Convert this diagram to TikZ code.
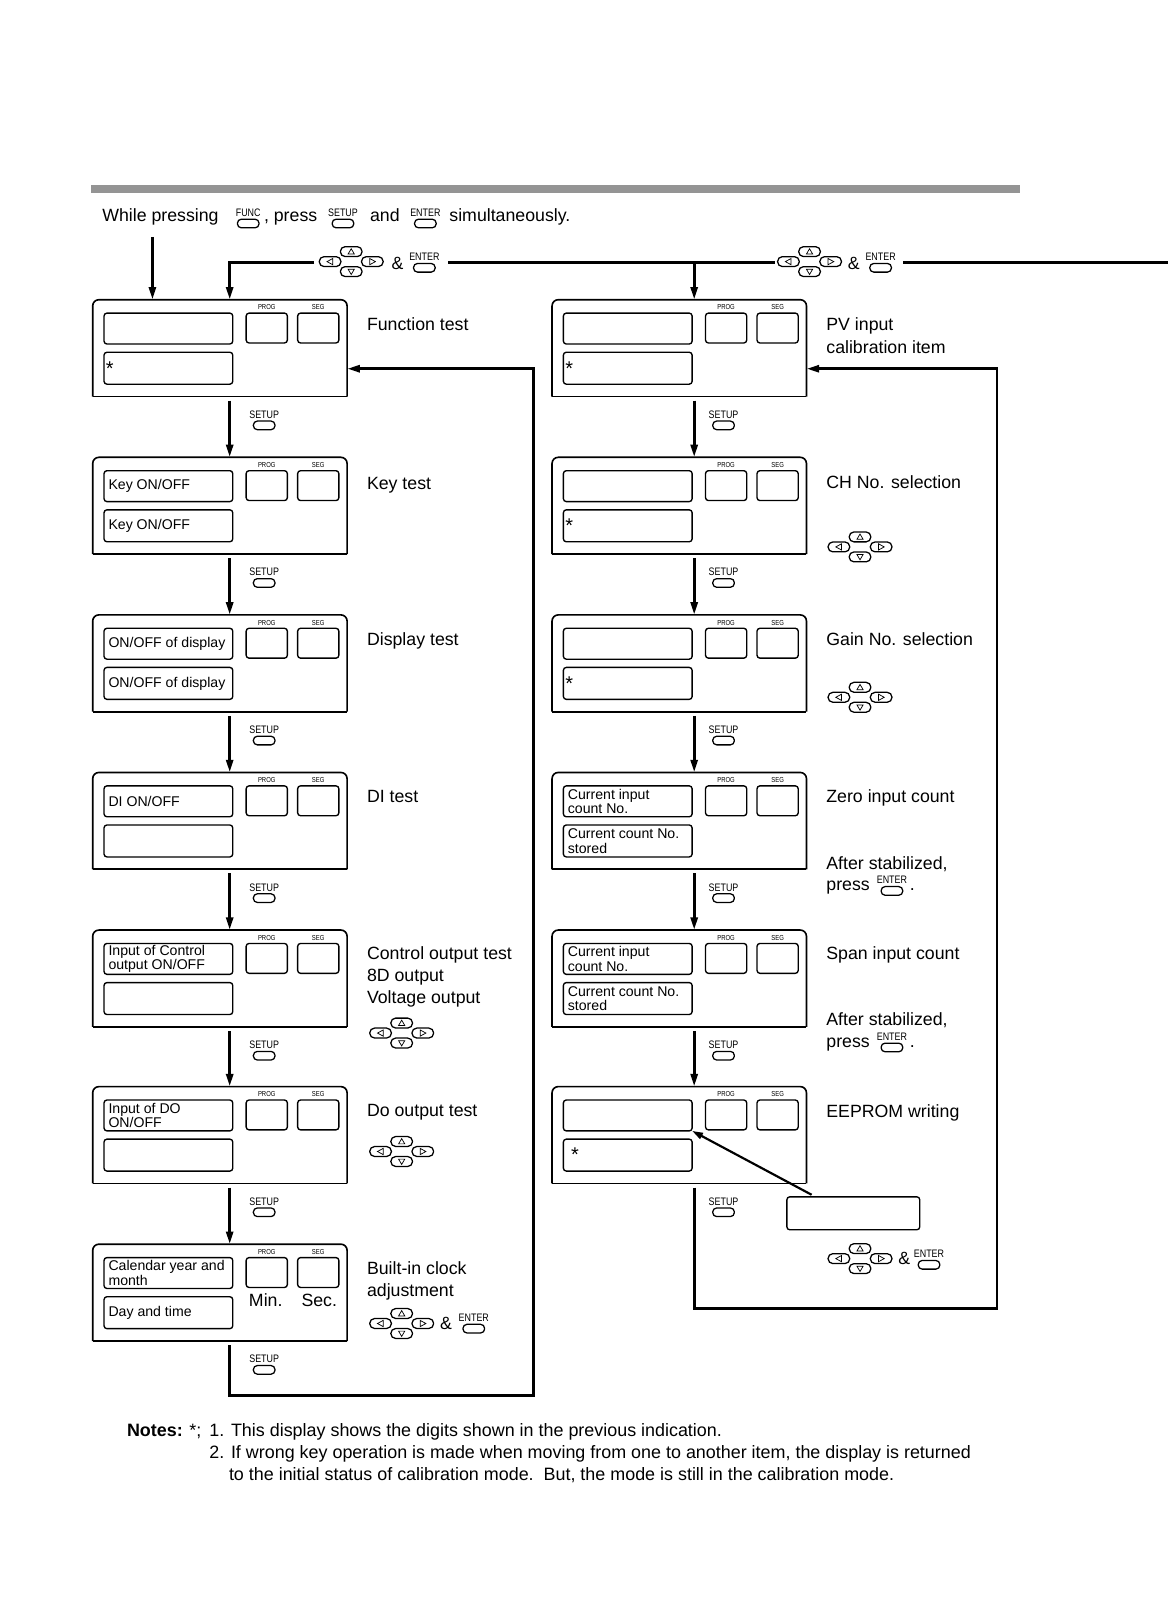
\documentclass[tikz,border=0pt]{standalone}
\usepackage{fontspec}
\setmainfont{Liberation Sans}
\newfontfamily\narrowfont[FakeStretch=0.82]{Liberation Sans}
\usetikzlibrary{arrows.meta}

\newcommand\markstar[1][-1.4pt]{\fontsize{11}{11}\selectfont\hspace*{#1}*}

\tikzset{
  panelframe/.style={line width=0.9pt},
  display/.style={draw,line width=0.75pt,rounded corners=1.6pt},
  disptext/.style={font=\fontsize{7.8}{8.1}\selectfont,align=left,inner sep=0pt,anchor=west},
  item/.style={font=\fontsize{9.8}{12}\selectfont,inner sep=0pt,anchor=base west},
  notetext/.style={item,font=\fontsize{9.9}{12}\selectfont},
  flowline/.style={line width=1.6pt},
  flow/.style={flowline,-{Triangle[length=7pt,width=3.8pt]}},
  keyoval/.style={draw,line width=0.7pt,rounded corners=2.2pt},
  keylabel/.style={font=\narrowfont\fontsize{6}{6}\selectfont,inner sep=0pt},
  tinylabel/.style={font=\narrowfont\fontsize{4}{4}\selectfont,inner sep=0pt},
  pics/key/.style={code={
    \node[keylabel] (-name) at (0,-10.5) {#1};
    \draw[keyoval] (-10.5,-4.2) rectangle (10.5,4.2);
  }},
  pics/arrowkeys/.style={code={
    \draw[keyoval,rounded corners=2.6pt] (-10.5,-14.5) rectangle (10.5,-4.9);
    \draw[keyoval,rounded corners=2.6pt] (-10.5,4.9) rectangle (10.5,14.5);
    \draw[keyoval,rounded corners=2.6pt] (-31,-4.8) rectangle (-10,4.8);
    \draw[keyoval,rounded corners=2.6pt] (10,-4.8) rectangle (31,4.8);
    % small triangles
    \draw[line width=0.4pt] (-3,-7.4) -- (3,-7.4) -- (0,-12.5) -- cycle;
    \draw[line width=0.4pt] (-3,7.4) -- (3,7.4) -- (0,12.5) -- cycle;
    \draw[line width=0.4pt] (-18,-3) -- (-18,3) -- (-23.5,0) -- cycle;
    \draw[line width=0.4pt] (18,-3) -- (18,3) -- (23.5,0) -- cycle;
  }},
  pics/panel/.style 2 args={code={
    \draw[panelframe,rounded corners=3.4pt] (0,94) -- (0,0) -- (247,0) -- (247,94);
    \draw[panelframe] (0,94) -- (247,94);
    \draw[display] (11,13) rectangle (136,43);
    \draw[display] (11,51) rectangle (136,82);
    \draw[display] (149,13) rectangle (189,42);
    \draw[display] (199,13) rectangle (239,42);
    \node[tinylabel] (-prog) at (169,7.5) {PROG};
    \node[tinylabel] (-seg) at (219,7.5) {SEG};
    \node[disptext] (-up) at (15,28) {#1};
    \node[disptext] (-lo) at (15,66.5) {#2};
    \pic at (166.5,122) {key=SETUP};
    \coordinate (-top) at (0,0);
    \coordinate (-bot) at (0,98);
    \coordinate (-ret) at (247,67);
    \coordinate (-corner) at (136,43);
  }},
}

\begin{document}
\begin{tikzpicture}[x=0.02cm,y=-0.02cm]
  \useasboundingbox (0,0) rectangle (1134,1569);

  % Heading bar and start instruction
  \fill[black!42] (88,180) rectangle (990,187);
  \node[item] (hdr) at (99,215) {While pressing};
  \pic at (241,217) {key=FUNC};
  \node[item] (hdr2) at (256,215) {, press};
  \pic at (333,217) {key=SETUP};
  \node[item] (hdr3) at (359,215) {and};
  \pic at (413,217) {key=ENTER};
  \node[item] (hdr4) at (436,215) {simultaneously.};

  % Columns
  \coordinate (hx) at (148,230);
  \coordinate (colL) at (223,0);
  \coordinate (colR) at (674,0);

  % Left column panels
  \pic (fn) at (90,291) {panel={}{\markstar}};
  \pic (key) at (90,444) {panel={Key ON/OFF}{Key ON/OFF}};
  \pic (disp) at (90,597) {panel={ON/OFF of display}{ON/OFF of display}};
  \pic (di) at (90,750) {panel={DI ON/OFF}{}};
  \pic (ctl) at (90,903) {panel={Input of Control\\output ON/OFF}{}};
  \pic (dout) at (90,1055) {panel={Input of DO\\ON/OFF}{}};
  \pic (clk) at (90,1208) {panel={Calendar year and\\month}{Day and time}};
  \node[item,anchor=base] (min) at (258,1268) {Min.};
  \node[item,anchor=base] (sec) at (310,1268) {Sec.};

  % Right column panels
  \pic (pv) at (536,291) {panel={}{\markstar}};
  \pic (ch) at (536,444) {panel={}{\markstar}};
  \pic (gain) at (536,597) {panel={}{\markstar}};
  \pic (zero) at (536,750) {panel={Current input\\count No.}{Current count No.\\stored}};
  \pic (span) at (536,903) {panel={Current input\\count No.}{Current count No.\\stored}};
  \pic (eep) at (536,1055) {panel={}{\markstar[1.8pt]}};

  % Left labels
  \node[item] (lfn) at (356,321) {Function test};
  \node[item] (lkey) at (356,475) {Key test};
  \node[item] (ldisp) at (356,627) {Display test};
  \node[item] (ldi) at (356,779) {DI test};
  \node[item] (lctl) at (356,932) {Control output test};
  \node[item] (lctl2) at (356,953) {8D output};
  \node[item] (lctl3) at (356,974) {Voltage output};
  \pic at (390,1003) {arrowkeys};
  \node[item] (ldo) at (356,1084) {Do output test};
  \pic at (390,1118) {arrowkeys};
  \node[item] (lclk) at (356,1237) {Built-in clock};
  \node[item] (lclk2) at (356,1259) {adjustment};
  \pic at (390,1285) {arrowkeys};
  \node[item,anchor=center] (amp1) at (433,1285) {\&};
  \pic at (460,1290) {key=ENTER};

  % Right labels
  \node[item] (lpv) at (802,321) {PV input};
  \node[item] (lpv2) at (802,343) {calibration item};
  \node[item] (lch) at (802,474) {CH No. selection};
  \pic at (835,531) {arrowkeys};
  \node[item] (lgain) at (802,627) {Gain No. selection};
  \pic at (835,677) {arrowkeys};
  \node[item] (lzero) at (802,779) {Zero input count};
  \node[item] (lzero2) at (802,844) {After stabilized,};
  \node[item] (lzero3) at (802,865) {press};
  \pic at (866,865) {key=ENTER};
  \node[item] (lzero4) at (883,865) {.};
  \node[item] (lspan) at (802,932) {Span input count};
  \node[item] (lspan2) at (802,996) {After stabilized,};
  \node[item] (lspan3) at (802,1017) {press};
  \pic at (866,1017) {key=ENTER};
  \node[item] (lspan4) at (883,1017) {.};
  \node[item] (leep) at (802,1085) {EEPROM writing};

  % Top line with key hints
  \coordinate (tl1) at (305,255);
  \coordinate (tl2) at (435,255);
  \coordinate (tl3) at (752,255);
  \coordinate (tl4) at (877,255);
  \coordinate (topR) at (1134,255);
  \pic at (341,254) {arrowkeys};
  \node[item,anchor=center] (amp2) at (386,256) {\&};
  \pic at (412,260) {key=ENTER};
  \pic at (786,254) {arrowkeys};
  \node[item,anchor=center] (amp3) at (829,256) {\&};
  \pic at (855,260) {key=ENTER};
  \draw[flow] (tl1) -| (fn-top -| colL);
  \draw[flowline] (tl2) -- (tl3);
  \draw[flowline] (tl4) -- (topR);
  \draw[flow] (tl2 -| colR) -- (pv-top -| colR);
  \draw[flow] (hx) -- (fn-top -| hx);

  % Left column flow
  \draw[flow] (fn-bot -| colL) -- (key-top -| colL);
  \draw[flow] (key-bot -| colL) -- (disp-top -| colL);
  \draw[flow] (disp-bot -| colL) -- (di-top -| colL);
  \draw[flow] (di-bot -| colL) -- (ctl-top -| colL);
  \draw[flow] (ctl-bot -| colL) -- (dout-top -| colL);
  \draw[flow] (dout-bot -| colL) -- (clk-top -| colL);
  \coordinate (retL) at (518,1355);
  \draw[flow] (clk-bot -| colL) |- (retL) |- (fn-ret);

  % Right column flow
  \draw[flow] (pv-bot -| colR) -- (ch-top -| colR);
  \draw[flow] (ch-bot -| colR) -- (gain-top -| colR);
  \draw[flow] (gain-bot -| colR) -- (zero-top -| colR);
  \draw[flow] (zero-bot -| colR) -- (span-top -| colR);
  \draw[flow] (span-bot -| colR) -- (eep-top -| colR);
  \coordinate (retR) at (968,1270);
  \draw[flow] (eep-bot -| colR) |- (retR) |- (pv-ret);

  % EEPROM writing display
  \node[display,inner sep=0pt,minimum width=2.58cm,minimum height=0.64cm] (wr) at (828.5,1178) {};
  \coordinate (wrtail) at (788,1160);
  \draw[line width=1.2pt,-{Triangle[length=6pt,width=3.6pt]}] (wrtail) -- (eep-corner);
  \pic at (835,1222) {arrowkeys};
  \node[item,anchor=center] (amp4) at (878,1222) {\&};
  \pic at (902,1228) {key=ENTER};

  % Notes
  \node[notetext] (notes) at (123,1395) {\textbf{Notes:} *;};
  \node[notetext] (note1) at (203,1395) {1. This display shows the digits shown in the previous indication.};
  \node[notetext] (note2) at (203,1416) {2. If wrong key operation is made when moving from one to another item, the display is returned};
  \node[notetext] (note3) at (222,1437) {to the initial status of calibration mode.\ \ But, the mode is still in the calibration mode.};
\end{tikzpicture}
\end{document}
